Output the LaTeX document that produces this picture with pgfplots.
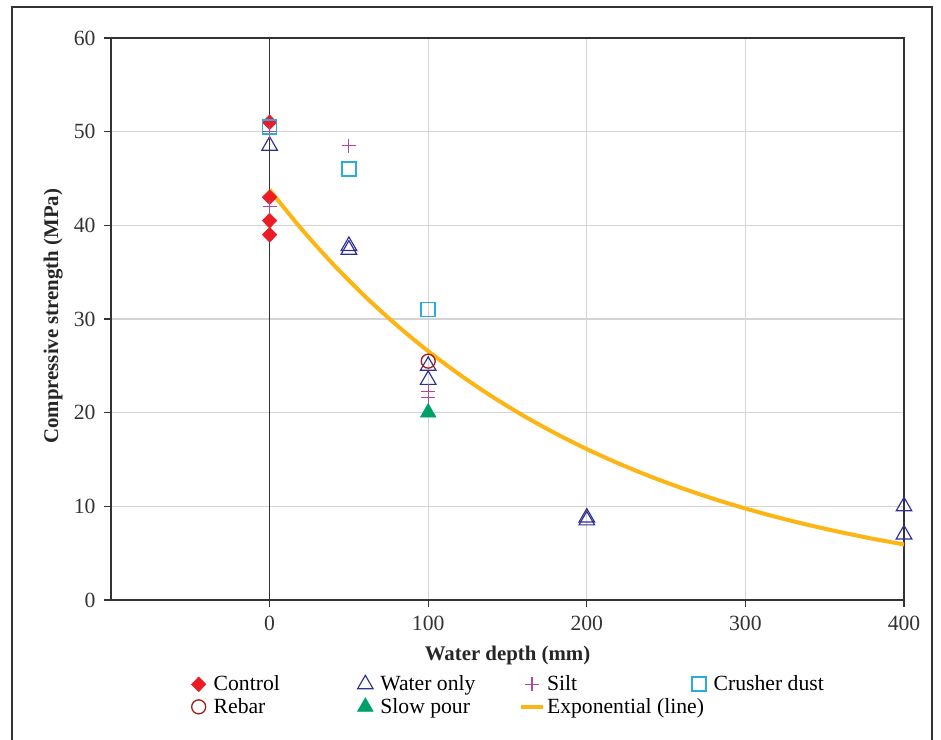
\documentclass[border=0pt]{standalone}
\usepackage{fontspec}
\setmainfont{Liberation Serif}
\usepackage{pgfplots}
\pgfplotsset{compat=1.18}
\definecolor{cred}{HTML}{ED1C24}
\definecolor{cblue}{HTML}{2E3192}
\definecolor{cpurple}{HTML}{B0479F}
\definecolor{ccyan}{HTML}{29ABE2}
\definecolor{cdred}{HTML}{A3201F}
\definecolor{cgreen}{HTML}{00A06A}
\definecolor{corange}{HTML}{FDB515}
\definecolor{cgrid}{HTML}{D4D4D4}
\definecolor{caxis}{HTML}{333333}
\begin{document}
\begin{tikzpicture}
\begin{axis}[
  at={(0,0)}, anchor=south west,
  scale only axis,
  width=475.8pt, height=337.2pt,
  xmin=-100, xmax=400, ymin=0, ymax=60,
  xtick={0,100,200,300,400},
  ytick={0,10,20,30,40,50,60},
  grid=major,
  major grid style={cgrid, line width=0.8pt},
  axis line style={caxis, line width=0.8pt},
  tick style={caxis, line width=0.8pt},
  tick align=outside,
  major tick length=4.2pt,
  xtick pos=bottom, ytick pos=left,
  /pgf/number format/assume math mode=true,
  tick label style={font=\fontsize{13}{15}\selectfont, text=caxis},
  xticklabel style={yshift=-1.8pt},
  yticklabel style={xshift=-1.6pt},
  label style={font=\fontsize{12.5}{14}\selectfont\bfseries, text=black!85},
  xlabel={Water depth (mm)},
  ylabel={Compressive strength (MPa)},
  xlabel style={at={(axis description cs:0.5,-0.099)}, anchor=center},
  ylabel style={at={(axis description cs:-0.073,0.505)}, anchor=center},
  legend columns=4,
  legend cell align=left,
  legend style={at={(axis description cs:0.5,-0.122)}, anchor=north, draw=none, fill=none,
    font=\fontsize{13}{15}\selectfont, row sep=-1pt,
    /tikz/every odd column/.append style={column sep=0.5pt}},
  legend image code/.code={%
    \draw[overlay,mark repeat=2,mark phase=2,#1] plot coordinates {(0pt,0pt) (6.5pt,0pt) (13pt,0pt)};
    \path[draw=none,fill=none] (0pt,-3pt) rectangle (13pt,3pt);},
]
\addplot[forget plot, caxis, line width=0.8pt] coordinates {(0,0) (0,60)};
\addplot[only marks, mark=diamond*, mark size=4.4pt, color=cred, mark options={xscale=1.3, fill=cred, draw=cred}]
  coordinates {(0,51) (0,43) (0,40.5) (0,39)};
\addlegendentry{\makebox[82.5pt][l]{Control}}
\addplot[only marks, mark=triangle, mark size=5.4pt, color=cblue, mark options={line width=0.7pt}]
  coordinates {(0,48.5) (50,37.8) (50,37.4) (100,25) (100,23.5) (200,8.8) (200,8.5) (400,10) (400,7)};
\addlegendentry{\makebox[82.5pt][l]{Water only}}
\addplot[only marks, mark=+, mark size=4.2pt, color=cpurple, mark options={line width=0.7pt}]
  coordinates {(0,50) (0,42) (50,48.5) (100,22.3) (100,21.6)};
\addlegendentry{\makebox[82.5pt][l]{Silt}}
\addplot[only marks, mark=square, mark size=4.2pt, color=ccyan, mark options={line width=1pt, draw=ccyan}]
  coordinates {(0,50.5) (50,46) (100,31)};
\addlegendentry{Crusher dust}
\addplot[only marks, mark=o, mark size=4.2pt, color=cdred, mark options={line width=0.8pt}]
  coordinates {(100,25.5)};
\addlegendentry{\makebox[82.5pt][l]{Rebar}}
\addplot[only marks, mark=triangle*, mark size=5.4pt, color=cgreen, mark options={fill=cgreen}]
  coordinates {(100,20)};
\addlegendentry{\makebox[82.5pt][l]{Slow pour}}
\addplot[corange, line width=2.4pt, smooth] coordinates {
  (0,43.8) (20,39.63) (40,35.86) (60,32.45) (80,29.36) (100,26.57) (120,24.04)
  (140,21.75) (160,19.68) (180,17.81) (200,16.11) (220,14.58) (240,13.19)
  (260,11.94) (280,10.80) (300,9.77) (320,8.84) (340,8.00) (360,7.24)
  (380,6.55) (400,5.93)};
\addlegendentry{\makebox[82.5pt][l]{Exponential (line)}}
\end{axis}
\draw[caxis, line width=0.9pt] (-59.4pt,-90pt) -- (-59.4pt,355.8pt) -- (492.6pt,355.8pt) -- (492.6pt,-90pt);
\pgfresetboundingbox
\useasboundingbox (-66.6pt,-84pt) rectangle (498pt,360pt);
\end{tikzpicture}
\end{document}
